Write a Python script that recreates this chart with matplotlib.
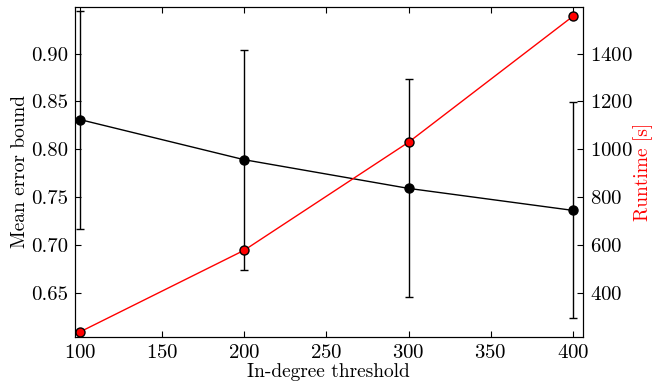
import matplotlib
matplotlib.use("Agg")
import matplotlib.pyplot as plt

# data
threshold = [100, 200, 300, 400]
err_mean = [0.831, 0.789, 0.759, 0.736]
err_std = [0.114, 0.115, 0.114, 0.113]
runtime = [235, 577, 1029, 1556]

plt.rcParams['font.family'] = 'serif'
plt.rcParams['font.serif'] = ['cmr10', 'DejaVu Serif']
plt.rcParams['mathtext.fontset'] = 'cm'
plt.rcParams['axes.formatter.use_mathtext'] = True
plt.rcParams['axes.unicode_minus'] = False
plt.rcParams['font.size'] = 14
plt.rcParams['xtick.labelsize'] = 15
plt.rcParams['ytick.labelsize'] = 15
plt.rcParams['xtick.direction'] = 'in'
plt.rcParams['ytick.direction'] = 'in'
plt.rcParams['xtick.major.size'] = 4
plt.rcParams['ytick.major.size'] = 4
plt.rcParams['xtick.major.pad'] = 5
plt.rcParams['ytick.major.pad'] = 5

fig = plt.figure(figsize=(6.57, 3.84), dpi=100)
ax = fig.add_axes([0.114, 0.1224, 0.773, 0.8594])

ax.errorbar(threshold, err_mean, yerr=err_std, color='k', marker='o',
            markersize=6.5, capsize=3, lw=1, elinewidth=1)
ax.set_xlim(97, 406)
ax.set_ylim(0.6036, 0.9487)
ax.set_yticks([0.65, 0.70, 0.75, 0.80, 0.85, 0.90])
ax.set_yticklabels(['0.65', '0.70', '0.75', '0.80', '0.85', '0.90'])
ax.set_xticks([100, 150, 200, 250, 300, 350, 400])
ax.tick_params(top=True, right=False)
ax.set_xlabel('In-degree threshold', labelpad=1)
ax.set_ylabel('Mean error bound', labelpad=1)

ax2 = ax.twinx()
ax2.plot(threshold, runtime, color='r', marker='o', markersize=6.5,
         markerfacecolor='r', markeredgecolor='k', lw=1)
ax2.set_ylim(214, 1595)
ax2.set_yticks([400, 600, 800, 1000, 1200, 1400])
ax2.set_ylabel('Runtime [s]', color='r', labelpad=0.5)
ax2.set_xlim(97, 406)

fig.savefig('out.png', dpi=100)
